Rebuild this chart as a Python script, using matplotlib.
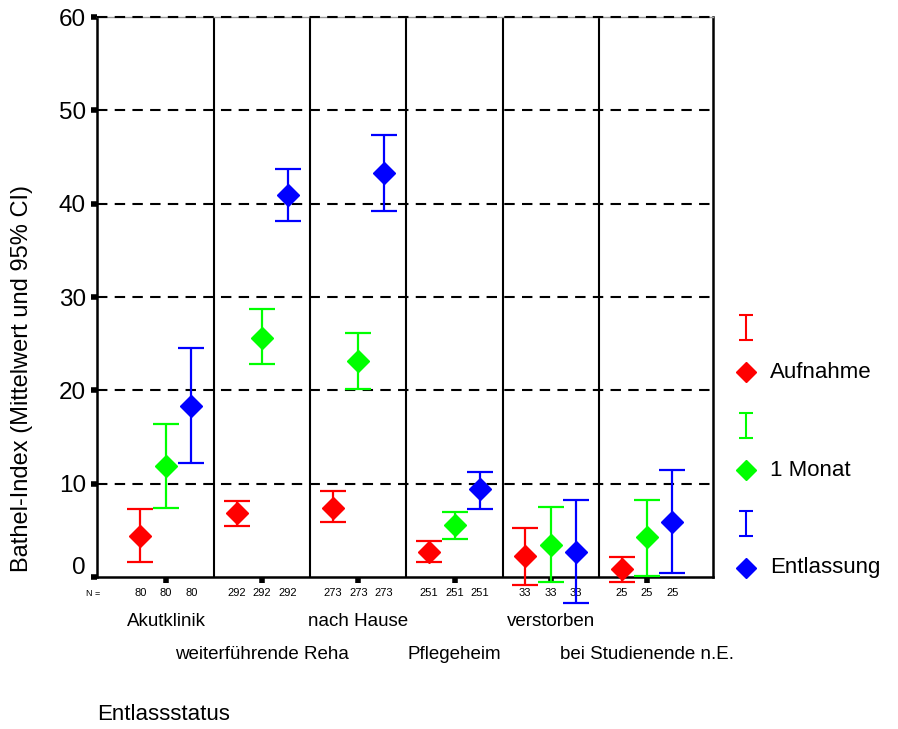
""" Bathel-Index nach Entlassstatus
"""
import matplotlib
matplotlib.use("Agg")
import matplotlib.pyplot as plt
from matplotlib.transforms import ScaledTranslation, blended_transform_factory

plt.rcParams['font.family'] = ['Liberation Sans', 'DejaVu Sans']

gruppen = ["Akutklinik", "weiterführende Reha", "nach Hause",
           "Pflegeheim", "verstorben", "bei Studienende n.E."]
n_fall = [80, 292, 273, 251, 33, 25]

serien = ["Aufnahme", "1 Monat", "Entlassung"]
farben = ["#ff0000", "#00ff00", "#0000ff"]

# Mittelwert, untere und obere Grenze des 95% CI
mittel = [
    [4.4, 6.9, 7.4, 2.7, 2.2, 0.9],
    [11.9, 25.6, 23.1, 5.6, 3.4, 4.3],
    [18.3, 40.9, 43.3, 9.4, 2.7, 5.9],
]
ci_unten = [
    [1.6, 5.5, 5.9, 1.6, -0.9, -0.5],
    [7.4, 22.8, 20.1, 4.1, -0.5, 0.1],
    [12.2, 38.1, 39.2, 7.3, -2.8, 0.4],
]
ci_oben = [
    [7.3, 8.1, 9.2, 3.9, 5.3, 2.1],
    [16.4, 28.7, 26.1, 7.0, 7.5, 8.3],
    [24.5, 43.7, 47.4, 11.3, 8.3, 11.5],
]

fig = plt.figure(figsize=(8.98, 7.29), dpi=100)
ax = fig.add_axes([97 / 898, 1 - 577 / 729, 616 / 898, 560 / 729])

pos = list(range(1, len(gruppen) + 1))
versatz = [-0.265, 0.0, 0.265]

for i in range(3):
    xs = [p + versatz[i] for p in pos]
    unten = [m - u for m, u in zip(mittel[i], ci_unten[i])]
    oben = [o - m for m, o in zip(mittel[i], ci_oben[i])]
    ax.errorbar(xs, mittel[i], yerr=[unten, oben], fmt='D', color=farben[i],
                ms=11, elinewidth=1.6, capsize=9.5, capthick=1.6,
                clip_on=False, zorder=5)

ax.set_ylim(0, 60)
ax.set_xlim(0.283, 6.686)
ax.set_yticks(range(0, 61, 10))
ax.set_xticks(pos)
ax.set_xticklabels([])
ax.tick_params(axis='both', direction='out', length=4, width=4, color='black')
ax.tick_params(axis='y', labelsize=17.5, pad=4)
for y in range(10, 61, 10):
    ax.axhline(y, color='black', ls=(0, (5, 3.5)), lw=1.5, zorder=3, clip_on=False)
for x in [1.5, 2.5, 3.5, 4.5, 5.5]:
    ax.axvline(x, color='black', lw=1.5, zorder=2)
for s in ['left', 'right', 'bottom']:
    ax.spines[s].set_linewidth(1.8)
ax.spines['top'].set_color('#999999')
ax.spines['top'].set_linewidth(1.0)

# label "0" sitzt etwas hoeher
lab0 = ax.get_yticklabels()[0]
lab0.set_transform(lab0.get_transform() + ScaledTranslation(0, 0.11, fig.dpi_scale_trans))

trans = blended_transform_factory(ax.transData, ax.transAxes)
ax.text(0.24, -0.029, "N =", transform=trans, ha='center', va='center', fontsize=6.5)
for g in range(len(gruppen)):
    for i in range(3):
        ax.text(pos[g] + versatz[i], -0.029, str(n_fall[g]), transform=trans,
                ha='center', va='center', fontsize=8)
    zeile = -0.080 if g % 2 == 0 else -0.139
    ax.text(pos[g], zeile, gruppen[g], transform=trans, ha='center',
            va='center', fontsize=13.5)

fig.text(22 / 898, 1 - 379 / 729, "Bathel-Index (Mittelwert und 95% CI)",
         rotation=90, ha='center', va='center', fontsize=17)
fig.text(97 / 898, 1 - 715 / 729, "Entlassstatus", ha='left', va='center',
         fontsize=16)

# Legende
lg = fig.add_axes([730 / 898, 1 - 590 / 729, 168 / 898, 290 / 729])
lg.set_xlim(0, 168)
lg.set_ylim(290, 0)
lg.axis('off')
for i in range(3):
    y0 = 15 + 98 * i
    lg.errorbar([16], [y0 + 12.5], yerr=[[12.5], [12.5]], fmt='none',
                ecolor=farben[i], elinewidth=1.5, capsize=5, capthick=1.5)
    lg.plot([16], [y0 + 57], 'D', color=farben[i], ms=10)
    lg.text(40, y0 + 57, serien[i], va='center', ha='left', fontsize=16)

fig.savefig("out.png", dpi=100)
